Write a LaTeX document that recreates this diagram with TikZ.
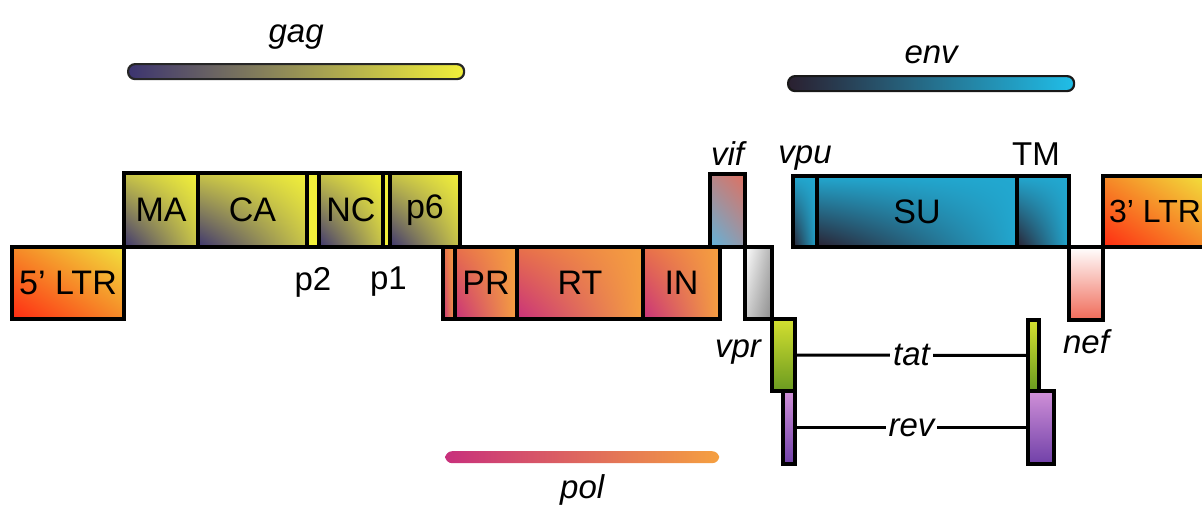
\documentclass[tikz,border=0pt]{standalone}
\usepackage{fontspec}
\setmainfont{Liberation Sans}
\usepackage{xcolor}
\usepackage{tikz}
\usetikzlibrary{positioning, shadings}

\definecolor{gagdark}{HTML}{3C3470}
\definecolor{gagmid}{HTML}{C8C448}
\definecolor{gaglight}{HTML}{F2F03A}
\definecolor{poldark}{HTML}{C8307C}
\definecolor{polmid}{HTML}{E8704A}
\definecolor{pollight}{HTML}{F5A040}
\definecolor{ltrred}{HTML}{FF2A12}
\definecolor{ltrorange}{HTML}{F58A28}
\definecolor{ltryellow}{HTML}{F2E23C}
\definecolor{envcyan}{HTML}{22A8D0}
\definecolor{envbright}{HTML}{20BEE8}
\definecolor{envdark}{HTML}{2A2030}
\definecolor{vifred}{HTML}{E07060}
\definecolor{vifblue}{HTML}{60B4DC}
\definecolor{tatlight}{HTML}{D4E030}
\definecolor{tatdark}{HTML}{6A9A20}
\definecolor{revlight}{HTML}{D090D8}
\definecolor{revdark}{HTML}{7040A8}
\definecolor{nefred}{HTML}{F06A58}

\begin{document}
\begin{tikzpicture}[x=1pt, y=-1pt, node distance=0pt]
    % Define the style for the nodes
    \tikzstyle{seg} = [draw, line width=3.8pt, inner sep=0pt, outer sep=0pt, font=\fontsize{34}{40}\selectfont]
    \tikzstyle{gagseg} = [seg, minimum height=74pt, lower left=gagdark, upper left=gagmid, lower right=gagmid, upper right=gaglight]
    \tikzstyle{gapseg} = [seg, minimum height=74pt, fill=gaglight]
    \tikzstyle{polseg} = [seg, minimum height=72pt, lower left=poldark, upper left=polmid, lower right=pollight, upper right=pollight]
    \tikzstyle{envseg} = [seg, minimum height=71pt, lower left=envdark, upper left=envcyan, lower right=envcyan, upper right=envcyan]
    \tikzstyle{ltr} = [seg, lower left=ltrred, upper left=ltrorange, lower right=ltrorange, upper right=ltryellow]
    \tikzstyle{bar} = [rounded corners=7pt, minimum height=15pt, inner sep=0pt]
    \tikzstyle{lbl} = [inner sep=0pt, font=\fontsize{33}{40}\selectfont\itshape]
    \tikzstyle{txt} = [inner sep=0pt, font=\fontsize{33}{40}\selectfont]
    \tikzstyle{line} = [draw, line width=3pt]

    \useasboundingbox (0,0) rectangle (1202,506);
    \clip (0,0) rectangle (1202,506);

    % Place the gag segments
    \node [gagseg, minimum width=74pt, anchor=north west] (ma) at (124,173) {MA};
    \node [gagseg, minimum width=109pt, right=of ma] (ca) {CA};
    \node [gapseg, minimum width=12pt, right=of ca] (ptwo) {};
    \node [gagseg, minimum width=64pt, right=of ptwo] (nc) {NC};
    \node [gapseg, minimum width=7pt, right=of nc] (pone) {};
    \node [gagseg, minimum width=70pt, right=of pone] (psix) {p6};
    \node [ltr, minimum width=112pt, minimum height=72pt, below left=of ma.south west] (ltrfive) {5' LTR};

    % Place the pol segments
    \node [polseg, minimum width=12pt, anchor=north west] (pre) at (443,247) {};
    \node [polseg, minimum width=62pt, right=of pre] (pr) {PR};
    \node [polseg, minimum width=126pt, right=of pr] (rt) {RT};
    \node [polseg, minimum width=77pt, right=of rt] (in) {IN};

    % Place the accessory genes
    \node [seg, minimum width=35pt, minimum height=73pt, upper right=vifred, upper left=vifred!70!vifblue, lower left=vifblue, lower right=vifblue!60!vifred, anchor=south east] (vif) at (745,247) {};
    \node [seg, minimum width=27pt, minimum height=72pt, upper left=white, lower left=gray!40, upper right=gray!60, lower right=gray!90, anchor=north west] (vpr) at (vif.south east) {};
    \node [seg, minimum width=23pt, minimum height=72pt, top color=tatlight, bottom color=tatdark, anchor=north west] (tatone) at (vpr.south east) {};
    \node [seg, minimum width=12pt, minimum height=73pt, top color=revlight, bottom color=revdark, anchor=north east] (revone) at (tatone.south east) {};

    % Place the env segments
    \node [envseg, minimum width=24pt, anchor=north west, fill=envcyan] (vpu) at (793,176) {};
    \node [envseg, minimum width=200pt, right=of vpu] (su) {SU};
    \node [envseg, minimum width=52pt, right=of su] (tm) {};
    \node [seg, minimum width=34pt, minimum height=73pt, top color=white, bottom color=nefred, anchor=north west] (nef) at (tm.south east) {};
    \node [ltr, minimum width=104pt, minimum height=71pt, anchor=south west, font=\fontsize{32}{38}\selectfont] (ltrthree) at (nef.north east) {3' LTR};
    \node [seg, minimum width=11pt, minimum height=71pt, top color=tatlight, bottom color=tatdark, anchor=north west] (tattwo) at (1028,320) {};
    \node [seg, minimum width=26pt, minimum height=73pt, top color=revlight, bottom color=revdark, anchor=north west] (revtwo) at (tattwo.south west) {};

    % Place the bars
    \node [bar, draw=black!85, line width=2.2pt, left color=gagdark, middle color=gaglight!70!gagmid, right color=gaglight, minimum width=336pt, anchor=north west] (gagbar) at (127,63) {};
    \node [bar, draw=black!90, line width=2.2pt, left color=envdark, middle color=envcyan, right color=envbright, minimum width=286pt, anchor=north west] (envbar) at (787,75) {};
    \node [bar, minimum height=12pt, left color=poldark, right color=pollight, minimum width=274pt, anchor=north west] (polbar) at (445,451) {};

    % Labels
    \node [lbl, above=13pt of gagbar] {gag};
    \node [lbl, above=11pt of envbar] {env};
    \node [lbl, below=11pt of polbar] {pol};
    \node [txt, below=20pt of ptwo] {p2};
    \node [txt, below=20pt of pone, xshift=2pt] {p1};
    \node [lbl, above=8pt of vif] {vif};
    \node [lbl, above=5pt of vpu] {vpu};
    \node [txt, above=10pt of tm, xshift=-7pt] {TM};
    \node [lbl, anchor=base] at (738,357) {vpr};
    \node [lbl, below=9pt of nef] {nef};

    % Connect the exons
    \path [line] (tatone.east) -- node [lbl, fill=white, inner xsep=3pt] {tat} (tattwo.west);
    \path [line] (revone.east) -- node [lbl, fill=white, inner xsep=3pt] {rev} (revtwo.west);

\end{tikzpicture}
\end{document}
